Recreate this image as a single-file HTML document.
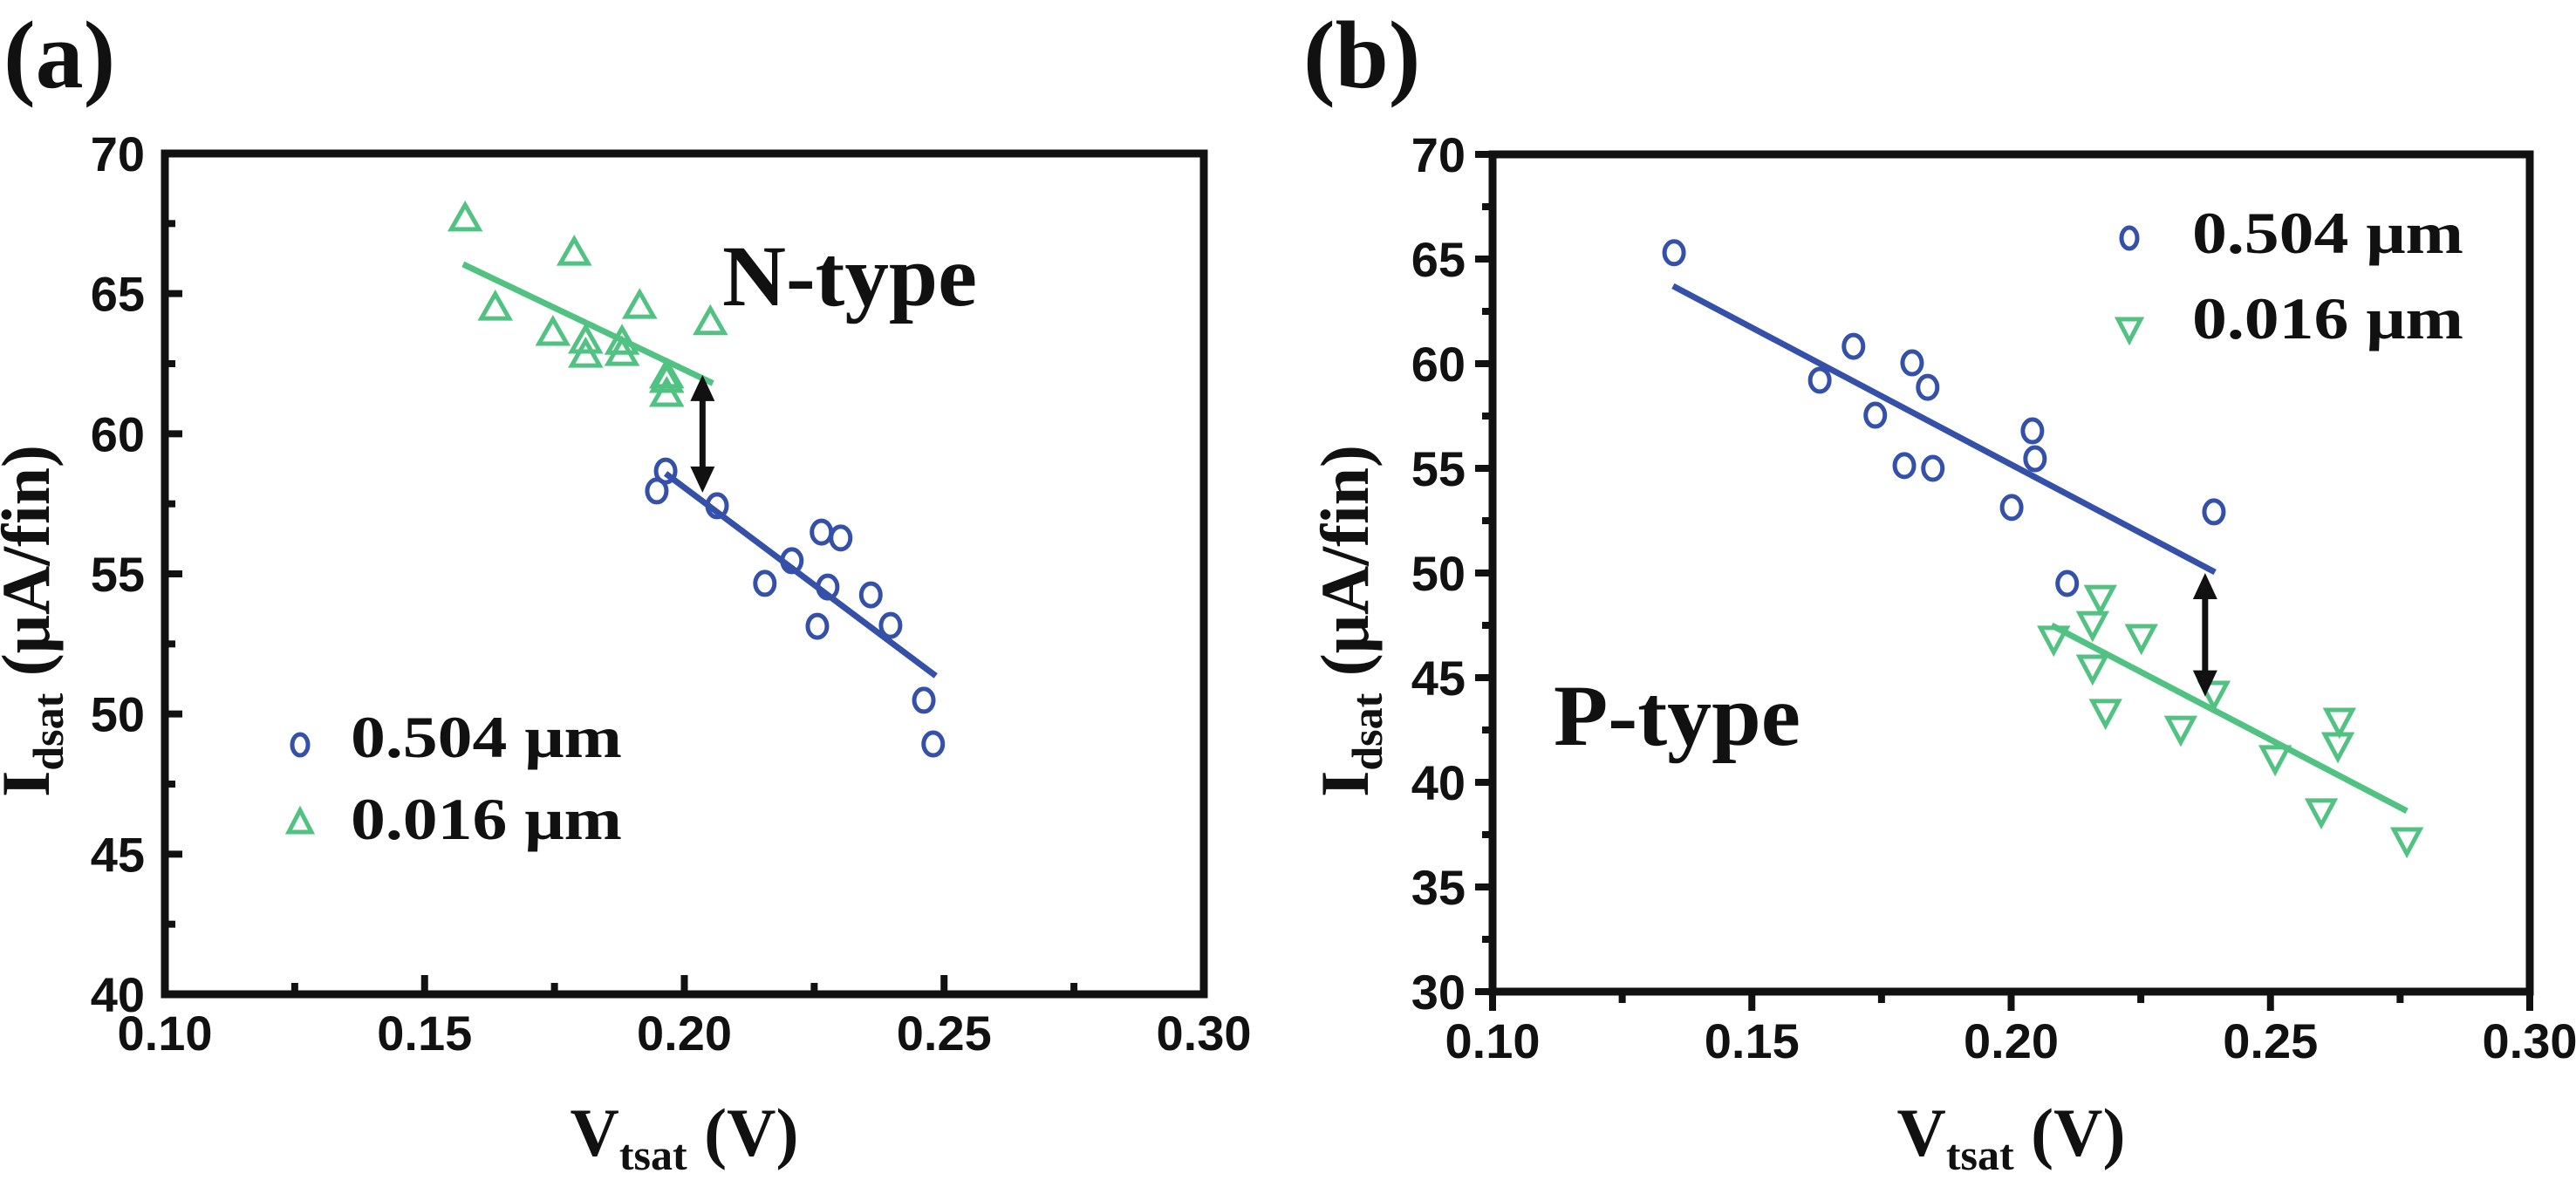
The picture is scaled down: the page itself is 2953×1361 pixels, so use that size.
<!DOCTYPE html>
<html><head><meta charset="utf-8"><style>
html,body{margin:0;padding:0;background:#fff;}
svg{display:block;}
</style></head><body>
<svg id="fig" width="2953" height="1361" viewBox="0 0 2953 1361" xmlns="http://www.w3.org/2000/svg">
<rect x="0" y="0" width="2953" height="1361" fill="#fff"/>
</svg>
<script>
// ---------- Panel (a) data: N-type ----------
const aBlueX = [0.1947,0.1964,0.2063,0.2264,0.2301,0.2207,0.2155,0.2276,0.2359,0.2256,0.2397,0.2461,0.2479];
const aBlueY = [57.96,58.67,57.43,56.49,56.28,55.47,54.66,54.53,54.25,53.13,53.16,50.49,48.93];
const aGreenX = [0.1578,0.1636,0.1788,0.1747,0.181,0.181,0.188,0.188,0.1914,0.1966,0.1966,0.205,0.1966];
const aGreenY = [67.7,64.52,66.48,63.62,63.34,62.84,63.3,62.9,64.58,61.94,61.44,64.0,62.1];
const aBlueFitX = [0.1964,0.2484];
const aBlueFitY = [58.58,51.36];
const aGreenFitX = [0.1574,0.2055];
const aGreenFitY = [66.05,61.8];
const aArrowX = [0.2035];
const aArrowY = [62.1,57.9];
const aYTicks = [40,45,50,55,60,65,70];
const aXTicks = [0.10,0.15,0.20,0.25,0.30];
const aXTickLabels = ["0.10","0.15","0.20","0.25","0.30"];

// ---------- Panel (b) data: P-type ----------
const bBlueX = [0.135,0.1696,0.1631,0.1809,0.1839,0.1738,0.1794,0.1849,0.2041,0.2046,0.2001,0.2391,0.2108];
const bBlueY = [65.3,60.83,59.21,60.04,58.87,57.54,55.13,55.0,56.79,55.46,53.13,52.92,49.5];
const bGreenX = [0.2082,0.2157,0.2172,0.2251,0.2157,0.2182,0.2327,0.2391,0.2509,0.2633,0.2630,0.2598,0.2763];
const bGreenY = [46.88,47.58,48.83,46.96,45.5,43.38,42.58,44.25,41.17,42.96,41.79,38.63,37.25];
const bBlueFitX = [0.1348,0.2393];
const bBlueFitY = [63.71,50.04];
const bGreenFitX = [0.2078,0.2763];
const bGreenFitY = [47.5,38.63];
const bArrowX = [0.2374];
const bArrowY = [50.0,44.1];
const bYTicks = [30,35,40,45,50,55,60,65,70];
const bXTicks = [0.10,0.15,0.20,0.25,0.30];
const bXTickLabels = ["0.10","0.15","0.20","0.25","0.30"];

const NS = "http://www.w3.org/2000/svg";
const svg = document.getElementById('fig');
const BLUE = "#3450A8", GREEN = "#52C283";

function mk(tag, attrs, parent){
  const e = document.createElementNS(NS, tag);
  for (const k in attrs) e.setAttribute(k, attrs[k]);
  (parent||svg).appendChild(e);
  return e;
}

function panel(cfg){
  const g = mk('g', {});
  
  
  const sx = v => cfg.x0 + (v - cfg.xmin)/(cfg.xmax - cfg.xmin)*(cfg.x1 - cfg.x0);
  const sy = v => cfg.y1 - (v - cfg.ymin)/(cfg.ymax - cfg.ymin)*(cfg.y1 - cfg.y0);

  // frame
  const fr = mk('rect', {x:cfg.x0, y:cfg.y0, width:cfg.x1-cfg.x0, height:cfg.y1-cfg.y0, fill:'none', stroke:'#111', 'stroke-width':9}, g);
  
  

  // y ticks
  const dirY = cfg.yIn ? 1 : -1;
  cfg.yTicks.forEach((t, i) => {
    const y = sy(t);
    const tk = mk('line', {x1:cfg.x0, x2:cfg.x0 + dirY*20, y1:y, y2:y, stroke:'#111', 'stroke-width':8}, g);
    
    
    if (i < cfg.yTicks.length-1){
      const ym = sy(t + (cfg.yTicks[1]-cfg.yTicks[0])/2);
      const mt = mk('line', {x1:cfg.x0, x2:cfg.x0 + dirY*12, y1:ym, y2:ym, stroke:'#111', 'stroke-width':8}, g);
      
      
    }
    const lb = mk('text', {x:cfg.yLabelRight, y:y+20, 'text-anchor':'end', 'font-family':'Liberation Sans, sans-serif', 'font-weight':'bold', 'font-size':56, fill:'#111'}, g);
    lb.textContent = String(t);
    
    
  });
  // x ticks
  const dirX = cfg.xIn ? -1 : 1;
  cfg.xTicks.forEach((t, i) => {
    const x = sx(t);
    const tk = mk('line', {x1:x, x2:x, y1:cfg.y1, y2:cfg.y1 + dirX*22, stroke:'#111', 'stroke-width':8}, g);
    
    
    if (i < cfg.xTicks.length-1){
      const xm = sx(t + (cfg.xTicks[1]-cfg.xTicks[0])/2);
      const mt = mk('line', {x1:xm, x2:xm, y1:cfg.y1, y2:cfg.y1 + dirX*13, stroke:'#111', 'stroke-width':8}, g);
      
      
    }
    const lb = mk('text', {x:x, y:cfg.xLabelY, 'text-anchor':'middle', 'font-family':'Liberation Sans, sans-serif', 'font-weight':'bold', 'font-size':56, fill:'#111'}, g);
    lb.textContent = cfg.xTickLabels[i];
    
    
  });

  // fit lines
  const bl = mk('line', {x1:sx(cfg.bFitX[0]), y1:sy(cfg.bFitY[0]), x2:sx(cfg.bFitX[1]), y2:sy(cfg.bFitY[1]), stroke:BLUE, 'stroke-width':7}, g);
  
  
  const gl = mk('line', {x1:sx(cfg.gFitX[0]), y1:sy(cfg.gFitY[0]), x2:sx(cfg.gFitX[1]), y2:sy(cfg.gFitY[1]), stroke:GREEN, 'stroke-width':7}, g);
  
  

  // blue circles
  cfg.bX.forEach((v, i) => {
    const c = mk('ellipse', {cx:sx(v), cy:sy(cfg.bY[i]), rx:11, ry:13, fill:'none', stroke:BLUE, 'stroke-width':5}, g);
    
    
  });
  // green triangles
  cfg.gX.forEach((v, i) => {
    const cx = sx(v), cy = sy(cfg.gY[i]);
    const pts = cfg.triDown
      ? `${cx-15},${cy-12} ${cx+15},${cy-12} ${cx},${cy+16}`
      : `${cx-16},${cy+13} ${cx+16},${cy+13} ${cx},${cy-15}`;
    const p = mk('polygon', {points:pts, fill:'none', stroke:GREEN, 'stroke-width':5}, g);
    
    
  });

  // double arrow
  const ax = sx(cfg.arrX[0]), ayT = sy(cfg.arrY[0]), ayB = sy(cfg.arrY[1]);
  const ar = mk('g', {}, g);
  
  
  mk('line', {x1:ax, x2:ax, y1:ayT+20, y2:ayB-20, stroke:'#111', 'stroke-width':7}, ar);
  mk('polygon', {points:`${ax-14},${ayT+30} ${ax+14},${ayT+30} ${ax},${ayT}`, fill:'#111'}, ar);
  mk('polygon', {points:`${ax-14},${ayB-30} ${ax+14},${ayB-30} ${ax},${ayB}`, fill:'#111'}, ar);

  // legend
  const lg = mk('g', {}, g);
  
  
  const l1 = mk('ellipse', {cx:cfg.legX, cy:cfg.leg1Y, rx:9, ry:12, fill:'none', stroke:BLUE, 'stroke-width':5}, lg);
  
  
  const lx = cfg.legX, ly = cfg.leg2Y;
  const tp = cfg.triDown ? `${lx-13},${ly-11} ${lx+13},${ly-11} ${lx},${ly+14}` : `${lx-13},${ly+12} ${lx+13},${ly+12} ${lx},${ly-13}`;
  const l2 = mk('polygon', {points:tp, fill:'none', stroke:GREEN, 'stroke-width':5}, lg);
  
  
  const t1 = mk('text', {x:cfg.legTextX, y:cfg.leg1Base, 'font-family':'Liberation Serif, serif', 'font-weight':'bold', 'font-size':68, fill:'#111', textLength:311, lengthAdjust:'spacingAndGlyphs'}, lg);
  t1.textContent = '0.504 μm';
  
  
  const t2 = mk('text', {x:cfg.legTextX, y:cfg.leg2Base, 'font-family':'Liberation Serif, serif', 'font-weight':'bold', 'font-size':68, fill:'#111', textLength:311, lengthAdjust:'spacingAndGlyphs'}, lg);
  t2.textContent = '0.016 μm';
  
  

  // type label
  const tl = mk('text', {x:cfg.typeX, y:cfg.typeY, 'font-family':'Liberation Serif, serif', 'font-weight':'bold', 'font-size':100, fill:'#111', textLength:cfg.typeW, lengthAdjust:'spacingAndGlyphs'}, g);
  tl.textContent = cfg.typeText;
  
  

  // panel letter
  const pl = mk('text', {x:cfg.letterX, y:100, 'font-family':'Liberation Serif, serif', 'font-weight':'bold', 'font-size':110, fill:'#111'}, g);
  pl.textContent = cfg.letter;
  
  

  // x title
  const xt = mk('text', {x:(cfg.x0+cfg.x1)/2, y:1325, 'text-anchor':'middle', 'font-family':'Liberation Serif, serif', 'font-weight':'bold', 'font-size':78, fill:'#111'}, g);
  xt.innerHTML = 'V<tspan font-size="50" dy="16">tsat</tspan><tspan dy="-16"> (V)</tspan>';
  
  

  // y title
  const yt = mk('text', {x:0, y:0, 'text-anchor':'middle', 'font-family':'Liberation Serif, serif', 'font-weight':'bold', 'font-size':78, fill:'#111', transform:`translate(${cfg.yTitleX},712) rotate(-90)`}, g);
  yt.innerHTML = 'I<tspan font-size="50" dy="16">dsat</tspan><tspan dy="-16"> (μA/fin)</tspan>';
  
  
}

panel({name:'panel-a-ntype', x0:189, x1:1380, y0:176, y1:1140, xmin:0.10, xmax:0.30, ymin:40, ymax:70,
  yTicks:aYTicks, xTicks:aXTicks, xTickLabels:aXTickLabels, yIn:true, xIn:true, yLabelRight:166, xLabelY:1204,
  bX:aBlueX, bY:aBlueY, gX:aGreenX, gY:aGreenY, bFitX:aBlueFitX, bFitY:aBlueFitY, gFitX:aGreenFitX, gFitY:aGreenFitY,
  arrX:aArrowX, arrY:aArrowY, triDown:false,
  legX:344, leg1Y:854, leg2Y:942, legTextX:402, leg1Base:868, leg2Base:962,
  typeX:828, typeY:350, typeW:292, typeText:'N-type', letter:'(a)', letterX:4, yTitleX:56});

panel({name:'panel-b-ptype', x0:1711, x1:2900, y0:177, y1:1137, xmin:0.10, xmax:0.30, ymin:30, ymax:70,
  yTicks:bYTicks, xTicks:bXTicks, xTickLabels:bXTickLabels, yIn:false, xIn:false, yLabelRight:1680, xLabelY:1213,
  bX:bBlueX, bY:bBlueY, gX:bGreenX, gY:bGreenY, bFitX:bBlueFitX, bFitY:bBlueFitY, gFitX:bGreenFitX, gFitY:bGreenFitY,
  arrX:bArrowX, arrY:bArrowY, triDown:true,
  legX:2441, leg1Y:273, leg2Y:377, legTextX:2513, leg1Base:290, leg2Base:388,
  typeX:1781, typeY:854, typeW:283, typeText:'P-type', letter:'(b)', letterX:1494, yTitleX:1568});
</script>
</body></html>
